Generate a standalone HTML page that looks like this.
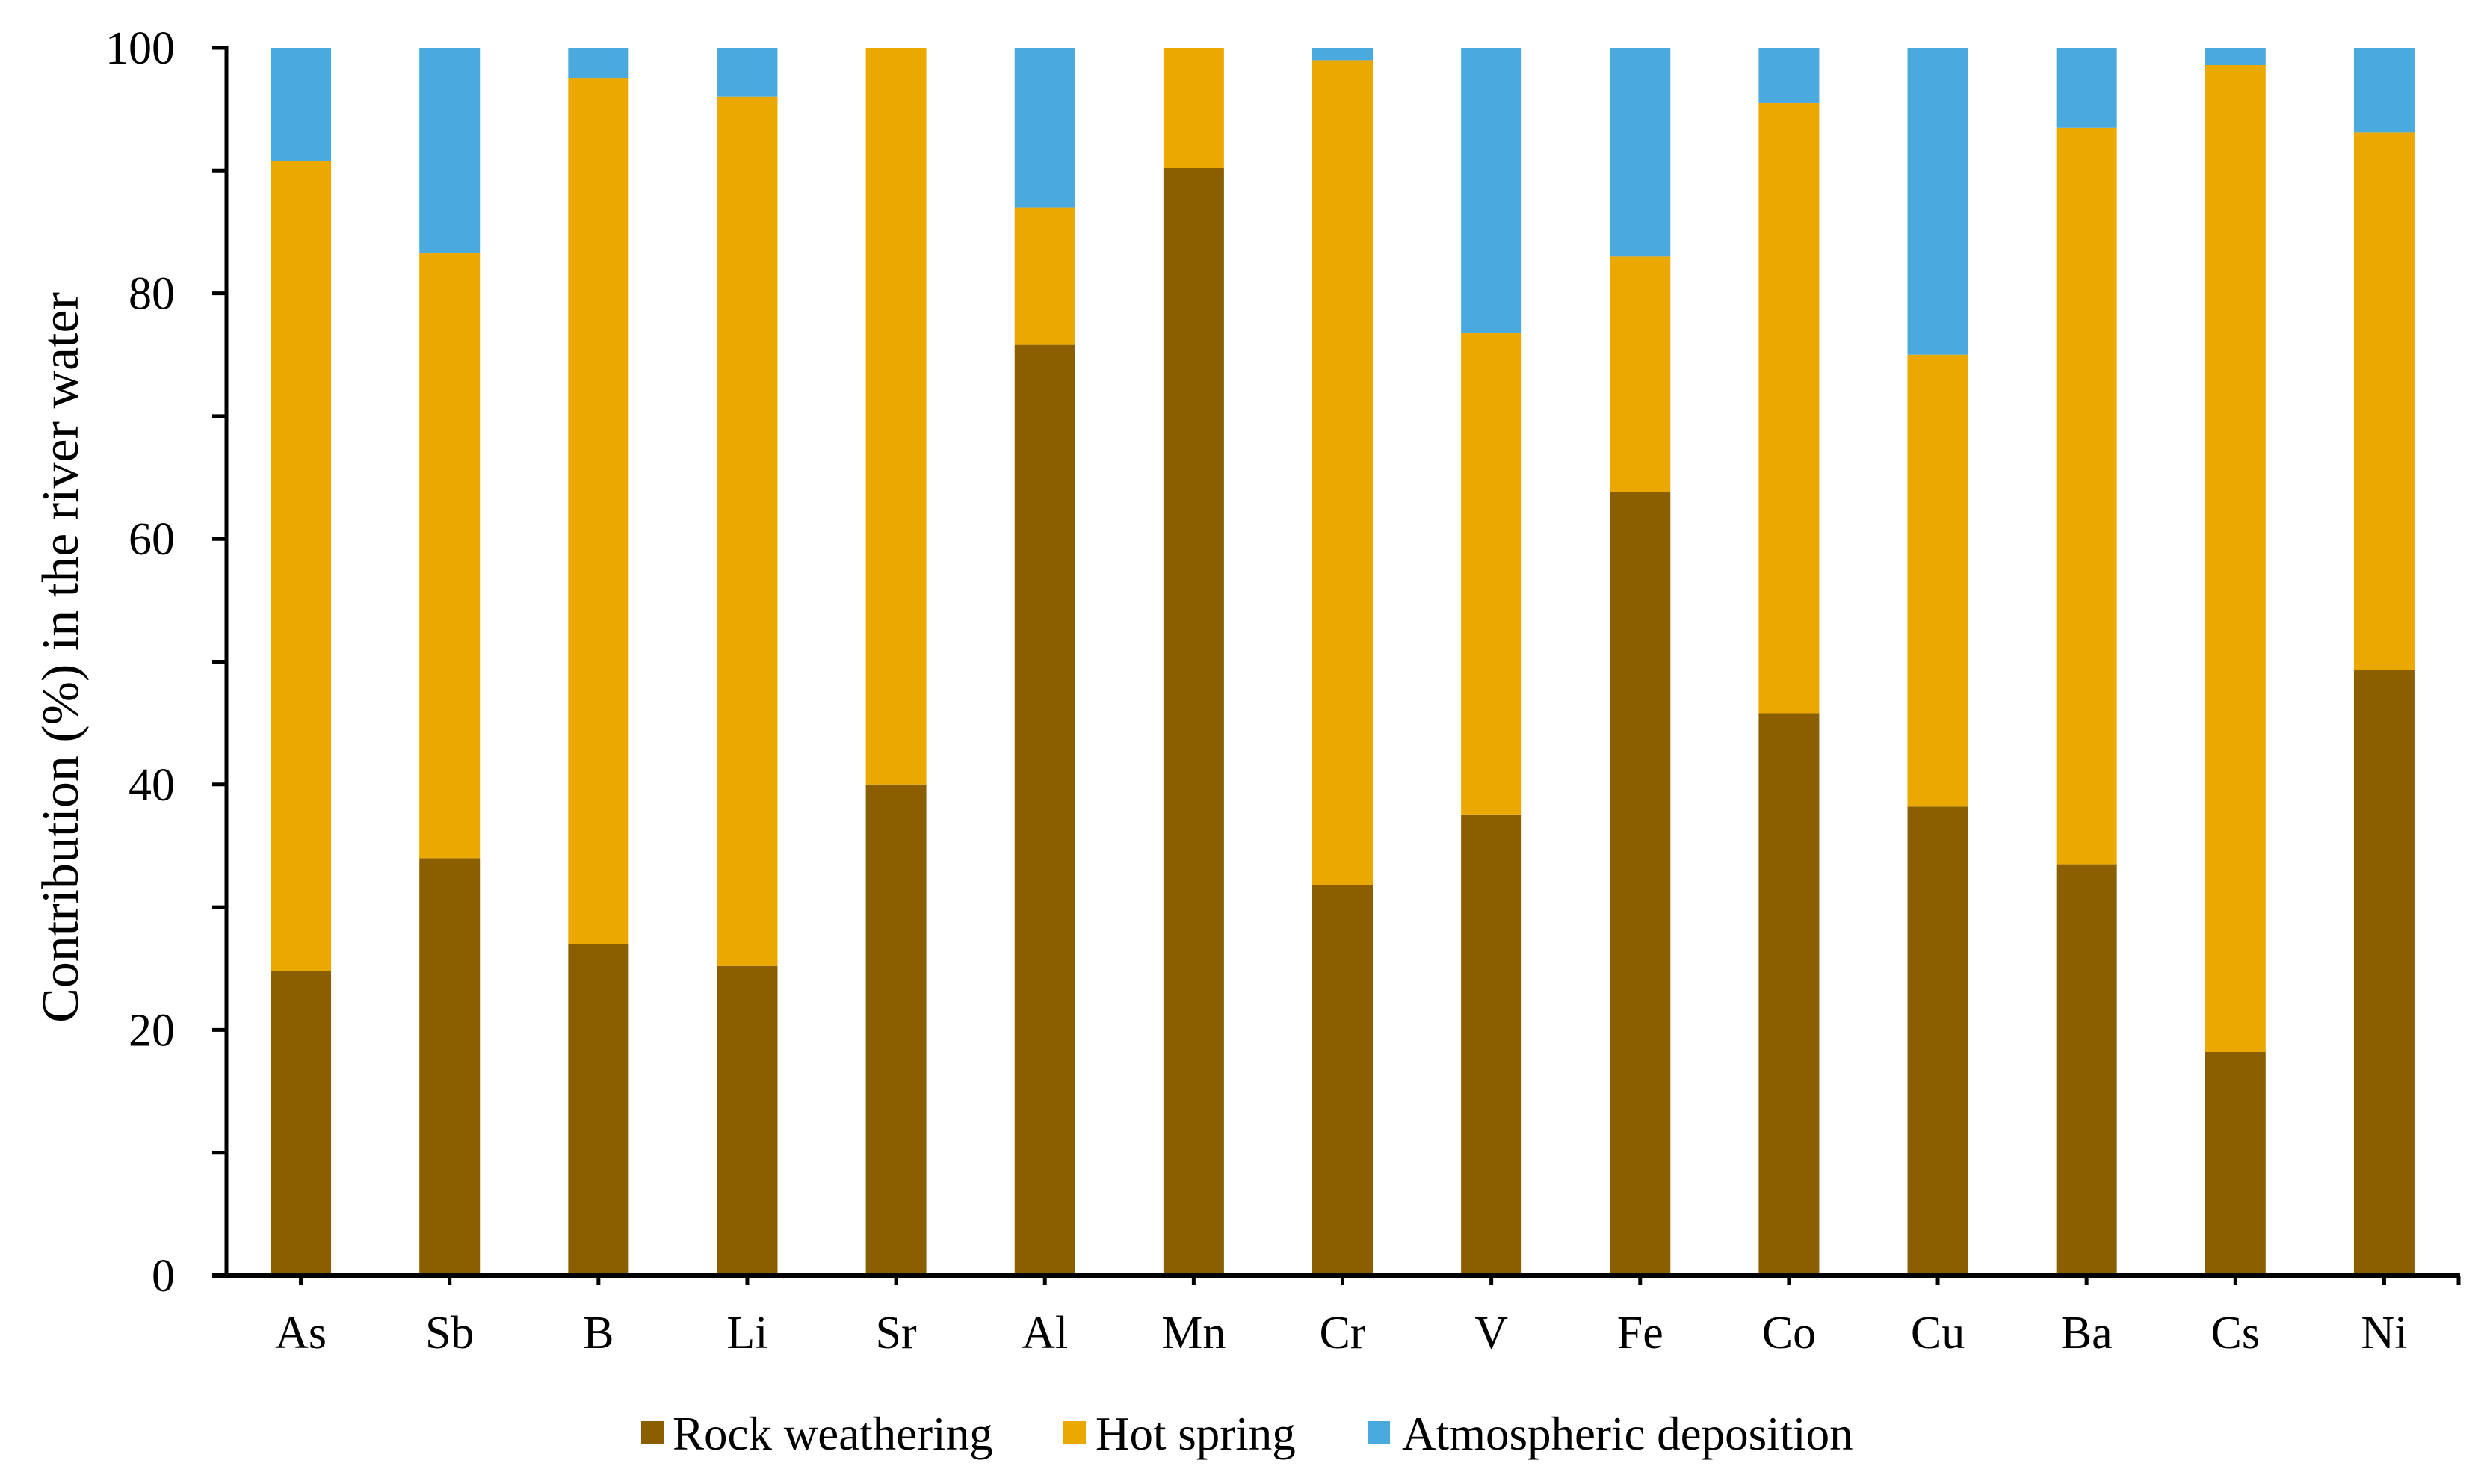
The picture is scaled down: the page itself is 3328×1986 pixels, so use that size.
<!DOCTYPE html>
<html><head><meta charset="utf-8"><style>
html,body{margin:0;padding:0;background:#fff;}
svg{display:block;font-family:"Liberation Serif","Times New Roman",serif;}
</style></head><body>
<svg id="chart" width="3328" height="1986" viewBox="0 0 3328 1986">
<g id="bars"></g>
<g id="axes"></g>
<text x="0" y="0" transform="translate(104,880) rotate(-90)" text-anchor="middle" font-size="70" fill="#000">Contribution (%) in the river water</text>
<g>
 <g><rect x="858" y="1902" width="30" height="30" fill="#8B5E00"/><text x="900" y="1940" font-size="63">Rock weathering</text></g>
 <g><rect x="1423" y="1902" width="30" height="30" fill="#EBA800"/><text x="1466" y="1940" font-size="63">Hot spring</text></g>
 <g><rect x="1830" y="1902" width="30" height="30" fill="#4BAADD"/><text x="1876" y="1940" font-size="63">Atmospheric deposition</text></g>
</g>
</svg>
<script>
const categories = ["As","Sb","B","Li","Sr","Al","Mn","Cr","V","Fe","Co","Cu","Ba","Cs","Ni"];
const rockWeathering = [24.8,34,27,25.2,40,75.8,90.2,31.8,37.5,63.8,45.8,38.2,33.5,18.2,49.3];
const hotSpring = [66.0,49.3,70.5,70.8,60,11.2,9.8,67.2,39.3,19.2,49.7,36.8,60.0,80.4,43.8];
const atmospheric = [9.2,16.7,2.5,4.0,0,13.0,0,1.0,23.2,17.0,4.5,25.0,6.5,1.4,6.9];
const yTicks = [0,20,40,60,80,100];

const NS="http://www.w3.org/2000/svg";
const X0=303, X1=3290, Y0=1707, Y1=64;
const step=(X1-X0)/categories.length, barW=81;
const yScale=v=>Y0-(v/100)*(Y0-Y1);
const xCenter=i=>X0+step*(i+0.5);
function mk(tag,attrs,parent){const e=document.createElementNS(NS,tag);for(const k in attrs)e.setAttribute(k,attrs[k]);parent.appendChild(e);return e;}
const bars=document.getElementById('bars'), axes=document.getElementById('axes');
const series=[[rockWeathering,"#8B5E00","rock-weathering"],[hotSpring,"#EBA800","hot-spring"],[atmospheric,"#4BAADD","atmospheric-deposition"]];
categories.forEach((c,i)=>{
  let base=0;
  series.forEach(([arr,col,nm])=>{
    const v=arr[i];
    const r=mk('rect',{x:xCenter(i)-barW/2,y:yScale(base+v),width:barW,height:yScale(base)-yScale(base+v),fill:col},bars);
    
    
    base+=v;
  });
  const t=mk('line',{x1:xCenter(i),x2:xCenter(i),y1:Y0,y2:Y0+13,stroke:"#000","stroke-width":5},axes);
  
  
  const l=mk('text',{x:xCenter(i),y:1804,"text-anchor":"middle","font-size":62},axes);
  l.textContent=c;
  
  
});
const et=mk('line',{x1:X1,x2:X1,y1:Y0,y2:Y0+13,stroke:"#000","stroke-width":5},axes);


for(let v=0;v<=100;v+=10){
  const t=mk('line',{x1:X0-19,x2:X0,y1:yScale(v),y2:yScale(v),stroke:"#000","stroke-width":5},axes);
  
  
}
yTicks.forEach(v=>{
  const l=mk('text',{x:234,y:yScale(v)+21,"text-anchor":"end","font-size":62},axes);
  l.textContent=v;
  
  
});
const ya=mk('line',{x1:X0,x2:X0,y1:Y1-2,y2:Y0+3,stroke:"#000","stroke-width":5},axes);


const xa=mk('line',{x1:X0-19,x2:X1+2,y1:Y0,y2:Y0,stroke:"#000","stroke-width":6},axes);


</script>
</body></html>
